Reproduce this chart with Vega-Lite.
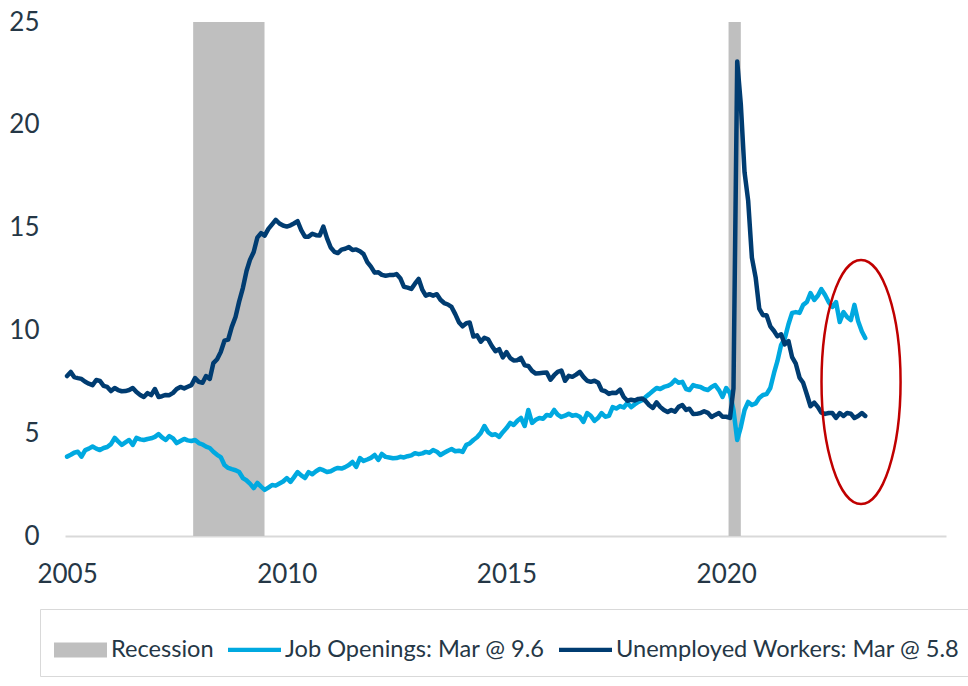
{
  "$schema": "https://vega.github.io/schema/vega-lite/v6.json",
  "width": 881,
  "height": 514,
  "autosize": {"type": "none"},
  "padding": {"left": 65, "top": 22, "right": 22, "bottom": 150},
  "background": "white",
  "config": {
    "view": {"stroke": null},
    "font": "Lato",
    "axisX": {"domainColor": "#D9D9D9", "domainWidth": 2, "ticks": false, "grid": false, "labelFont": "Lato", "labelFontSize": 26, "labelColor": "#253746", "labelPadding": 25, "labelFlush": false},
    "axisY": {"domain": false, "ticks": false, "grid": false, "labelFont": "Lato", "labelFontSize": 26, "labelColor": "#253746", "labelPadding": 26}
  },
  "layer": [
    {
      "data": {"values": [{"d": "2007-11-15", "d2": "2009-06-30"}, {"d": "2020-01-20", "d2": "2020-05-01"}]},
      "mark": {"type": "rect", "color": "#BFBFBF", "opacity": 1},
      "encoding": {
        "x": {"field": "d", "type": "temporal", "title": null,
          "scale": {"domain": [{"year": 2004, "month": 12, "date": 15}, {"year": 2024, "month": 12, "date": 31}]},
          "axis": {"values": [{"year": 2005, "month": 1, "date": 1}, {"year": 2010, "month": 1, "date": 1}, {"year": 2015, "month": 1, "date": 1}, {"year": 2020, "month": 1, "date": 1}], "format": "%Y"}},
        "x2": {"field": "d2"}
      }
    },
    {
      "data": {"values": [
        {"d":"2005-01-01","j":3.86,"u":7.78},{"d":"2005-02-01","j":3.95,"u":7.98},{"d":"2005-03-01","j":4.05,"u":7.73},{"d":"2005-04-01","j":4.10,"u":7.68},{"d":"2005-05-01","j":3.86,"u":7.64},{"d":"2005-06-01","j":4.18,"u":7.50},{"d":"2005-07-01","j":4.25,"u":7.41},{"d":"2005-08-01","j":4.35,"u":7.34},{"d":"2005-09-01","j":4.25,"u":7.59},{"d":"2005-10-01","j":4.18,"u":7.54},{"d":"2005-11-01","j":4.28,"u":7.30},{"d":"2005-12-01","j":4.33,"u":7.25},
        {"d":"2006-01-01","j":4.47,"u":7.05},{"d":"2006-02-01","j":4.77,"u":7.20},{"d":"2006-03-01","j":4.60,"u":7.10},{"d":"2006-04-01","j":4.43,"u":7.04},{"d":"2006-05-01","j":4.55,"u":7.05},{"d":"2006-06-01","j":4.67,"u":7.10},{"d":"2006-07-01","j":4.43,"u":7.20},{"d":"2006-08-01","j":4.77,"u":7.00},{"d":"2006-09-01","j":4.70,"u":6.86},{"d":"2006-10-01","j":4.67,"u":6.76},{"d":"2006-11-01","j":4.72,"u":6.95},{"d":"2006-12-01","j":4.75,"u":6.85},
        {"d":"2007-01-01","j":4.82,"u":7.15},{"d":"2007-02-01","j":4.96,"u":6.76},{"d":"2007-03-01","j":4.80,"u":6.80},{"d":"2007-04-01","j":4.67,"u":6.86},{"d":"2007-05-01","j":4.86,"u":6.85},{"d":"2007-06-01","j":4.75,"u":6.96},{"d":"2007-07-01","j":4.52,"u":7.15},{"d":"2007-08-01","j":4.62,"u":7.25},{"d":"2007-09-01","j":4.72,"u":7.18},{"d":"2007-10-01","j":4.65,"u":7.26},{"d":"2007-11-01","j":4.62,"u":7.34},{"d":"2007-12-01","j":4.67,"u":7.68},
        {"d":"2008-01-01","j":4.52,"u":7.50},{"d":"2008-02-01","j":4.45,"u":7.45},{"d":"2008-03-01","j":4.35,"u":7.78},{"d":"2008-04-01","j":4.28,"u":7.64},{"d":"2008-05-01","j":4.10,"u":8.41},{"d":"2008-06-01","j":3.95,"u":8.60},{"d":"2008-07-01","j":3.84,"u":8.95},{"d":"2008-08-01","j":3.45,"u":9.50},{"d":"2008-09-01","j":3.31,"u":9.55},{"d":"2008-10-01","j":3.25,"u":10.17},{"d":"2008-11-01","j":3.20,"u":10.65},{"d":"2008-12-01","j":3.11,"u":11.40},
        {"d":"2009-01-01","j":2.82,"u":12.06},{"d":"2009-02-01","j":2.70,"u":12.90},{"d":"2009-03-01","j":2.55,"u":13.43},{"d":"2009-04-01","j":2.33,"u":13.81},{"d":"2009-05-01","j":2.58,"u":14.51},{"d":"2009-06-01","j":2.40,"u":14.73},{"d":"2009-07-01","j":2.24,"u":14.61},{"d":"2009-08-01","j":2.35,"u":14.94},{"d":"2009-09-01","j":2.48,"u":15.16},{"d":"2009-10-01","j":2.45,"u":15.38},{"d":"2009-11-01","j":2.55,"u":15.20},{"d":"2009-12-01","j":2.65,"u":15.10},
        {"d":"2010-01-01","j":2.82,"u":15.05},{"d":"2010-02-01","j":2.63,"u":15.11},{"d":"2010-03-01","j":2.85,"u":15.20},{"d":"2010-04-01","j":3.11,"u":15.31},{"d":"2010-05-01","j":2.95,"u":14.88},{"d":"2010-06-01","j":2.82,"u":14.56},{"d":"2010-07-01","j":3.11,"u":14.56},{"d":"2010-08-01","j":3.00,"u":14.70},{"d":"2010-09-01","j":3.15,"u":14.63},{"d":"2010-10-01","j":3.26,"u":14.61},{"d":"2010-11-01","j":3.20,"u":15.05},{"d":"2010-12-01","j":3.11,"u":14.49},
        {"d":"2011-01-01","j":3.15,"u":14.03},{"d":"2011-02-01","j":3.25,"u":13.82},{"d":"2011-03-01","j":3.31,"u":13.76},{"d":"2011-04-01","j":3.28,"u":13.93},{"d":"2011-05-01","j":3.35,"u":13.97},{"d":"2011-06-01","j":3.45,"u":14.05},{"d":"2011-07-01","j":3.60,"u":13.91},{"d":"2011-08-01","j":3.36,"u":13.94},{"d":"2011-09-01","j":3.79,"u":13.85},{"d":"2011-10-01","j":3.65,"u":13.71},{"d":"2011-11-01","j":3.72,"u":13.32},{"d":"2011-12-01","j":3.80,"u":13.10},
        {"d":"2012-01-01","j":3.94,"u":12.81},{"d":"2012-02-01","j":3.70,"u":12.83},{"d":"2012-03-01","j":3.99,"u":12.70},{"d":"2012-04-01","j":3.85,"u":12.66},{"d":"2012-05-01","j":3.82,"u":12.69},{"d":"2012-06-01","j":3.78,"u":12.69},{"d":"2012-07-01","j":3.79,"u":12.74},{"d":"2012-08-01","j":3.85,"u":12.54},{"d":"2012-09-01","j":3.82,"u":12.12},{"d":"2012-10-01","j":3.88,"u":12.08},{"d":"2012-11-01","j":3.92,"u":12.02},{"d":"2012-12-01","j":4.03,"u":12.27},
        {"d":"2013-01-01","j":3.98,"u":12.50},{"d":"2013-02-01","j":4.02,"u":11.97},{"d":"2013-03-01","j":4.09,"u":11.69},{"d":"2013-04-01","j":4.05,"u":11.76},{"d":"2013-05-01","j":4.18,"u":11.69},{"d":"2013-06-01","j":4.10,"u":11.76},{"d":"2013-07-01","j":3.94,"u":11.49},{"d":"2013-08-01","j":4.05,"u":11.33},{"d":"2013-09-01","j":4.15,"u":11.26},{"d":"2013-10-01","j":4.23,"u":11.14},{"d":"2013-11-01","j":4.12,"u":10.79},{"d":"2013-12-01","j":4.15,"u":10.40},
        {"d":"2014-01-01","j":4.09,"u":10.20},{"d":"2014-02-01","j":4.43,"u":10.35},{"d":"2014-03-01","j":4.50,"u":10.38},{"d":"2014-04-01","j":4.67,"u":9.70},{"d":"2014-05-01","j":4.80,"u":9.76},{"d":"2014-06-01","j":5.01,"u":9.45},{"d":"2014-07-01","j":5.35,"u":9.64},{"d":"2014-08-01","j":5.05,"u":9.57},{"d":"2014-09-01","j":4.91,"u":9.24},{"d":"2014-10-01","j":4.95,"u":8.99},{"d":"2014-11-01","j":4.82,"u":9.09},{"d":"2014-12-01","j":5.05,"u":8.69},
        {"d":"2015-01-01","j":5.25,"u":8.94},{"d":"2015-02-01","j":5.50,"u":8.65},{"d":"2015-03-01","j":5.40,"u":8.54},{"d":"2015-04-01","j":5.60,"u":8.55},{"d":"2015-05-01","j":5.74,"u":8.66},{"d":"2015-06-01","j":5.35,"u":8.30},{"d":"2015-07-01","j":6.13,"u":8.27},{"d":"2015-08-01","j":5.50,"u":8.03},{"d":"2015-09-01","j":5.65,"u":7.90},{"d":"2015-10-01","j":5.74,"u":7.92},{"d":"2015-11-01","j":5.70,"u":7.94},{"d":"2015-12-01","j":5.89,"u":7.95},
        {"d":"2016-01-01","j":5.85,"u":7.60},{"d":"2016-02-01","j":6.13,"u":7.82},{"d":"2016-03-01","j":5.90,"u":7.98},{"d":"2016-04-01","j":5.79,"u":8.05},{"d":"2016-05-01","j":5.85,"u":7.55},{"d":"2016-06-01","j":5.95,"u":7.79},{"d":"2016-07-01","j":5.85,"u":7.74},{"d":"2016-08-01","j":5.89,"u":7.85},{"d":"2016-09-01","j":5.80,"u":7.98},{"d":"2016-10-01","j":5.55,"u":7.74},{"d":"2016-11-01","j":5.98,"u":7.55},{"d":"2016-12-01","j":5.85,"u":7.50},
        {"d":"2017-01-01","j":5.60,"u":7.55},{"d":"2017-02-01","j":5.75,"u":7.45},{"d":"2017-03-01","j":5.98,"u":7.10},{"d":"2017-04-01","j":5.80,"u":7.04},{"d":"2017-05-01","j":5.84,"u":6.91},{"d":"2017-06-01","j":6.27,"u":6.97},{"d":"2017-07-01","j":6.20,"u":6.96},{"d":"2017-08-01","j":6.32,"u":7.12},{"d":"2017-09-01","j":6.25,"u":6.76},{"d":"2017-10-01","j":6.47,"u":6.58},{"d":"2017-11-01","j":6.27,"u":6.63},{"d":"2017-12-01","j":6.40,"u":6.59},
        {"d":"2018-01-01","j":6.52,"u":6.67},{"d":"2018-02-01","j":6.60,"u":6.69},{"d":"2018-03-01","j":6.76,"u":6.57},{"d":"2018-04-01","j":6.90,"u":6.36},{"d":"2018-05-01","j":7.05,"u":6.23},{"d":"2018-06-01","j":7.20,"u":6.50},{"d":"2018-07-01","j":7.15,"u":6.28},{"d":"2018-08-01","j":7.25,"u":6.13},{"d":"2018-09-01","j":7.30,"u":6.03},{"d":"2018-10-01","j":7.39,"u":6.13},{"d":"2018-11-01","j":7.59,"u":6.05},{"d":"2018-12-01","j":7.45,"u":6.28},
        {"d":"2019-01-01","j":7.50,"u":6.37},{"d":"2019-02-01","j":7.15,"u":6.13},{"d":"2019-03-01","j":7.10,"u":6.19},{"d":"2019-04-01","j":7.34,"u":5.93},{"d":"2019-05-01","j":7.28,"u":5.94},{"d":"2019-06-01","j":7.25,"u":5.98},{"d":"2019-07-01","j":7.15,"u":6.07},{"d":"2019-08-01","j":7.10,"u":5.99},{"d":"2019-09-01","j":7.25,"u":5.79},{"d":"2019-10-01","j":7.34,"u":5.89},{"d":"2019-11-01","j":7.10,"u":5.98},{"d":"2019-12-01","j":6.76,"u":5.80},
        {"d":"2020-01-01","j":7.20,"u":5.80},{"d":"2020-02-01","j":6.95,"u":5.74},{"d":"2020-03-01","j":6.13,"u":7.18},{"d":"2020-04-01","j":4.67,"u":23.08},{"d":"2020-05-01","j":5.30,"u":20.99},{"d":"2020-06-01","j":6.13,"u":17.69},{"d":"2020-07-01","j":6.52,"u":16.31},{"d":"2020-08-01","j":6.37,"u":13.54},{"d":"2020-09-01","j":6.45,"u":12.58},{"d":"2020-10-01","j":6.71,"u":11.06},{"d":"2020-11-01","j":6.86,"u":10.74},{"d":"2020-12-01","j":6.90,"u":10.74},
        {"d":"2021-01-01","j":7.20,"u":10.20},{"d":"2021-02-01","j":7.93,"u":9.97},{"d":"2021-03-01","j":8.50,"u":9.71},{"d":"2021-04-01","j":9.30,"u":9.81},{"d":"2021-05-01","j":9.60,"u":9.32},{"d":"2021-06-01","j":10.30,"u":9.48},{"d":"2021-07-01","j":10.85,"u":8.70},{"d":"2021-08-01","j":10.89,"u":8.38},{"d":"2021-09-01","j":10.85,"u":7.70},{"d":"2021-10-01","j":11.24,"u":7.45},{"d":"2021-11-01","j":11.38,"u":6.88},{"d":"2021-12-01","j":11.82,"u":6.31},
        {"d":"2022-01-01","j":11.48,"u":6.49},{"d":"2022-02-01","j":11.70,"u":6.27},{"d":"2022-03-01","j":12.01,"u":6.00},{"d":"2022-04-01","j":11.72,"u":5.94},{"d":"2022-05-01","j":11.38,"u":5.98},{"d":"2022-06-01","j":11.14,"u":5.98},{"d":"2022-07-01","j":11.38,"u":5.74},{"d":"2022-08-01","j":10.41,"u":5.98},{"d":"2022-09-01","j":10.89,"u":5.84},{"d":"2022-10-01","j":10.65,"u":5.98},{"d":"2022-11-01","j":10.50,"u":5.95},{"d":"2022-12-01","j":11.24,"u":5.74},
        {"d":"2023-01-01","j":10.45,"u":5.84},{"d":"2023-02-01","j":9.95,"u":5.98},{"d":"2023-03-01","j":9.63,"u":5.84}
      ]},
      "transform": [{"fold": ["j", "u"], "as": ["k", "v"]}],
      "mark": {"type": "line", "strokeWidth": 4.5, "strokeCap": "round", "strokeJoin": "round"},
      "encoding": {
        "x": {"field": "d", "type": "temporal", "title": null,
          "scale": {"domain": [{"year": 2004, "month": 12, "date": 15}, {"year": 2024, "month": 12, "date": 31}]},
          "axis": {"values": [{"year": 2005, "month": 1, "date": 1}, {"year": 2010, "month": 1, "date": 1}, {"year": 2015, "month": 1, "date": 1}, {"year": 2020, "month": 1, "date": 1}], "format": "%Y"}},
        "y": {"field": "v", "type": "quantitative", "title": null,
          "scale": {"domain": [0, 25], "nice": false},
          "axis": {"values": [0, 5, 10, 15, 20, 25]}},
        "color": {
          "field": "k", "type": "nominal",
          "scale": {"domain": ["rec", "j", "u"], "range": ["#BFBFBF", "#00A9E0", "#003C71"]},
          "legend": {
            "orient": "none", "legendX": -25, "legendY": 587, "direction": "horizontal", "title": null,
            "symbolSize": 2809, "symbolStrokeWidth": 0,
            "labelFont": "Lato", "labelFontSize": 23.6, "labelColor": "#253746", "labelOffset": 4, "labelLimit": 0,
            "columnPadding": 14, "padding": 14, "strokeColor": "#D9D9D9", "fillColor": "white",
            "labelExpr": "datum.value === 'rec' ? 'Recession' : datum.value === 'j' ? 'Job Openings: Mar @ 9.6' : 'Unemployed Workers: Mar @ 5.8'",
            "encode": {"symbols": {"update": {
              "shape": {"signal": "datum.value === 'rec' ? 'M-1,-0.283H1V0.283H-1Z' : 'M-1,-0.08H1V0.08H-1Z'"},
              "fill": {"scale": "color", "field": "value"},
              "fillOpacity": {"value": 1},
              "strokeWidth": {"value": 0},
              "opacity": {"value": 1}
            }}}
          }
        }
      }
    },
    {
      "data": {"values": [{"d": "2023-01-25", "v": 7.49}]},
      "mark": {"type": "point", "shape": "M 0.324 0 C 0.324 0.5523 0.179 1 0 1 C -0.179 1 -0.324 0.5523 -0.324 0 C -0.324 -0.5523 -0.179 -1 0 -1 C 0.179 -1 0.324 -0.5523 0.324 0 Z", "size": 59536, "filled": false, "color": "#C00000", "stroke": "#C00000", "strokeWidth": 2.5, "opacity": 1},
      "encoding": {
        "x": {"field": "d", "type": "temporal"},
        "y": {"field": "v", "type": "quantitative"}
      }
    }
  ]
}
